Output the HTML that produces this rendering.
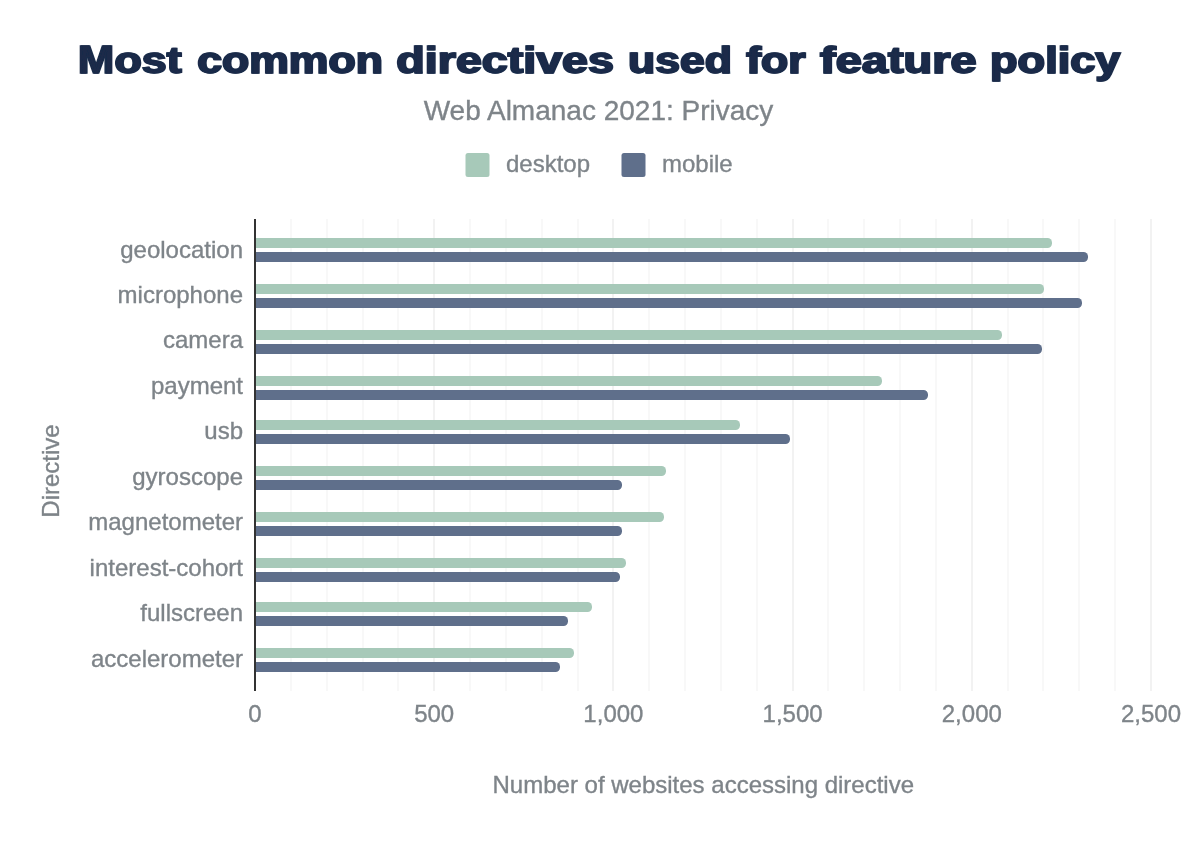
<!DOCTYPE html>
<html lang="en">
<head>
<meta charset="utf-8">
<title>Most common directives used for feature policy</title>
<style>
html,body{margin:0;padding:0;background:#fff;}
body{width:1200px;height:842px;overflow:hidden;}
svg{display:block;}
text{font-family:"Liberation Sans",sans-serif;}
.lbl{font-size:24px;fill:#7e8489;stroke:#7e8489;stroke-width:0.35px;}
.title{font-size:37.8px;font-weight:bold;fill:#1a2b49;stroke:#1a2b49;stroke-width:1.3px;stroke-linejoin:miter;}
.sub{font-size:28px;fill:#7e8489;stroke:#7e8489;stroke-width:0.35px;}
</style>
</head>
<body>
<svg width="1200" height="842" viewBox="0 0 1200 842">
<rect x="0" y="0" width="1200" height="842" fill="#ffffff"/>

<g stroke-width="2">
<line x1="291.00" y1="219" x2="291.00" y2="691" stroke="#f8f8f8"/>
<line x1="327.00" y1="219" x2="327.00" y2="691" stroke="#f8f8f8"/>
<line x1="363.00" y1="219" x2="363.00" y2="691" stroke="#f8f8f8"/>
<line x1="398.00" y1="219" x2="398.00" y2="691" stroke="#f8f8f8"/>
<line x1="434.00" y1="219" x2="434.00" y2="691" stroke="#f2f2f2"/>
<line x1="470.00" y1="219" x2="470.00" y2="691" stroke="#f8f8f8"/>
<line x1="506.00" y1="219" x2="506.00" y2="691" stroke="#f8f8f8"/>
<line x1="542.00" y1="219" x2="542.00" y2="691" stroke="#f8f8f8"/>
<line x1="578.00" y1="219" x2="578.00" y2="691" stroke="#f8f8f8"/>
<line x1="613.00" y1="219" x2="613.00" y2="691" stroke="#f2f2f2"/>
<line x1="649.00" y1="219" x2="649.00" y2="691" stroke="#f8f8f8"/>
<line x1="685.00" y1="219" x2="685.00" y2="691" stroke="#f8f8f8"/>
<line x1="721.00" y1="219" x2="721.00" y2="691" stroke="#f8f8f8"/>
<line x1="757.00" y1="219" x2="757.00" y2="691" stroke="#f8f8f8"/>
<line x1="793.00" y1="219" x2="793.00" y2="691" stroke="#f2f2f2"/>
<line x1="828.00" y1="219" x2="828.00" y2="691" stroke="#f8f8f8"/>
<line x1="864.00" y1="219" x2="864.00" y2="691" stroke="#f8f8f8"/>
<line x1="900.00" y1="219" x2="900.00" y2="691" stroke="#f8f8f8"/>
<line x1="936.00" y1="219" x2="936.00" y2="691" stroke="#f8f8f8"/>
<line x1="972.00" y1="219" x2="972.00" y2="691" stroke="#f2f2f2"/>
<line x1="1008.00" y1="219" x2="1008.00" y2="691" stroke="#f8f8f8"/>
<line x1="1043.00" y1="219" x2="1043.00" y2="691" stroke="#f8f8f8"/>
<line x1="1079.00" y1="219" x2="1079.00" y2="691" stroke="#f8f8f8"/>
<line x1="1115.00" y1="219" x2="1115.00" y2="691" stroke="#f8f8f8"/>
<line x1="1151.00" y1="219" x2="1151.00" y2="691" stroke="#f2f2f2"/>
</g>
<path d="M255 238 H1047.5 a4.5 4.5 0 0 1 4.5 4.5 v1 a4.5 4.5 0 0 1 -4.5 4.5 H255 Z" fill="#a7c9b9"/>
<path d="M255 252 H1083.5 a4.5 4.5 0 0 1 4.5 4.5 v1 a4.5 4.5 0 0 1 -4.5 4.5 H255 Z" fill="#5f6f8b"/>
<path d="M255 284 H1039.5 a4.5 4.5 0 0 1 4.5 4.5 v1 a4.5 4.5 0 0 1 -4.5 4.5 H255 Z" fill="#a7c9b9"/>
<path d="M255 298 H1077.5 a4.5 4.5 0 0 1 4.5 4.5 v1 a4.5 4.5 0 0 1 -4.5 4.5 H255 Z" fill="#5f6f8b"/>
<path d="M255 330 H997.5 a4.5 4.5 0 0 1 4.5 4.5 v1 a4.5 4.5 0 0 1 -4.5 4.5 H255 Z" fill="#a7c9b9"/>
<path d="M255 344 H1037.5 a4.5 4.5 0 0 1 4.5 4.5 v1 a4.5 4.5 0 0 1 -4.5 4.5 H255 Z" fill="#5f6f8b"/>
<path d="M255 376 H877.5 a4.5 4.5 0 0 1 4.5 4.5 v1 a4.5 4.5 0 0 1 -4.5 4.5 H255 Z" fill="#a7c9b9"/>
<path d="M255 390 H923.5 a4.5 4.5 0 0 1 4.5 4.5 v1 a4.5 4.5 0 0 1 -4.5 4.5 H255 Z" fill="#5f6f8b"/>
<path d="M255 420 H735.5 a4.5 4.5 0 0 1 4.5 4.5 v1 a4.5 4.5 0 0 1 -4.5 4.5 H255 Z" fill="#a7c9b9"/>
<path d="M255 434 H785.5 a4.5 4.5 0 0 1 4.5 4.5 v1 a4.5 4.5 0 0 1 -4.5 4.5 H255 Z" fill="#5f6f8b"/>
<path d="M255 466 H661.5 a4.5 4.5 0 0 1 4.5 4.5 v1 a4.5 4.5 0 0 1 -4.5 4.5 H255 Z" fill="#a7c9b9"/>
<path d="M255 480 H617.5 a4.5 4.5 0 0 1 4.5 4.5 v1 a4.5 4.5 0 0 1 -4.5 4.5 H255 Z" fill="#5f6f8b"/>
<path d="M255 512 H659.5 a4.5 4.5 0 0 1 4.5 4.5 v1 a4.5 4.5 0 0 1 -4.5 4.5 H255 Z" fill="#a7c9b9"/>
<path d="M255 526 H617.5 a4.5 4.5 0 0 1 4.5 4.5 v1 a4.5 4.5 0 0 1 -4.5 4.5 H255 Z" fill="#5f6f8b"/>
<path d="M255 558 H621.5 a4.5 4.5 0 0 1 4.5 4.5 v1 a4.5 4.5 0 0 1 -4.5 4.5 H255 Z" fill="#a7c9b9"/>
<path d="M255 572 H615.5 a4.5 4.5 0 0 1 4.5 4.5 v1 a4.5 4.5 0 0 1 -4.5 4.5 H255 Z" fill="#5f6f8b"/>
<path d="M255 602 H587.5 a4.5 4.5 0 0 1 4.5 4.5 v1 a4.5 4.5 0 0 1 -4.5 4.5 H255 Z" fill="#a7c9b9"/>
<path d="M255 616 H563.5 a4.5 4.5 0 0 1 4.5 4.5 v1 a4.5 4.5 0 0 1 -4.5 4.5 H255 Z" fill="#5f6f8b"/>
<path d="M255 648 H569.5 a4.5 4.5 0 0 1 4.5 4.5 v1 a4.5 4.5 0 0 1 -4.5 4.5 H255 Z" fill="#a7c9b9"/>
<path d="M255 662 H555.5 a4.5 4.5 0 0 1 4.5 4.5 v1 a4.5 4.5 0 0 1 -4.5 4.5 H255 Z" fill="#5f6f8b"/>
<rect x="254" y="219" width="2" height="472" fill="#333333"/>
<text class="lbl" x="243" y="257.50" text-anchor="end">geolocation</text>
<text class="lbl" x="243" y="302.97" text-anchor="end">microphone</text>
<text class="lbl" x="243" y="348.44" text-anchor="end">camera</text>
<text class="lbl" x="243" y="393.91" text-anchor="end">payment</text>
<text class="lbl" x="243" y="439.38" text-anchor="end">usb</text>
<text class="lbl" x="243" y="484.85" text-anchor="end">gyroscope</text>
<text class="lbl" x="243" y="530.32" text-anchor="end">magnetometer</text>
<text class="lbl" x="243" y="575.79" text-anchor="end">interest-cohort</text>
<text class="lbl" x="243" y="621.26" text-anchor="end">fullscreen</text>
<text class="lbl" x="243" y="666.73" text-anchor="end">accelerometer</text>
<text class="lbl" x="255.0" y="722" text-anchor="middle">0</text>
<text class="lbl" x="434.2" y="722" text-anchor="middle">500</text>
<text class="lbl" x="613.4" y="722" text-anchor="middle">1,000</text>
<text class="lbl" x="792.6" y="722" text-anchor="middle">1,500</text>
<text class="lbl" x="971.8" y="722" text-anchor="middle">2,000</text>
<text class="lbl" x="1151.0" y="722" text-anchor="middle">2,500</text>
<text class="lbl" x="703.3" y="792.5" text-anchor="middle">Number of websites accessing directive</text>
<text class="lbl" transform="translate(59,471) rotate(-90)" text-anchor="middle">Directive</text>
<defs><filter id="heavy" x="0" y="0" width="1200" height="100" filterUnits="userSpaceOnUse"><feOffset dx="1" dy="0" result="a"/><feMerge><feMergeNode in="SourceGraphic"/><feMergeNode in="a"/></feMerge></filter></defs>
<text class="title" y="73.4" filter="url(#heavy)"><tspan x="77.45" textLength="36.09" lengthAdjust="spacingAndGlyphs" font-size="39.4px">M</tspan><tspan x="114.08" textLength="66.96" lengthAdjust="spacingAndGlyphs">ost</tspan> <tspan x="196.78" textLength="185.62" lengthAdjust="spacingAndGlyphs">common</tspan> <tspan x="395.89" textLength="217.55" lengthAdjust="spacingAndGlyphs">directives</tspan> <tspan x="627.50" textLength="103.79" lengthAdjust="spacingAndGlyphs">used</tspan> <tspan x="745.72" textLength="59.35" lengthAdjust="spacingAndGlyphs">for</tspan> <tspan x="819.61" textLength="156.45" lengthAdjust="spacingAndGlyphs">feature</tspan> <tspan x="989.57" textLength="130.39" lengthAdjust="spacingAndGlyphs">policy</tspan></text>
<text class="sub" x="598.5" y="119.7" text-anchor="middle">Web Almanac 2021: Privacy</text>
<rect x="465.5" y="153" width="24" height="24" rx="2.5" fill="#a7c9b9"/>
<text class="lbl" x="506" y="172">desktop</text>
<rect x="621.5" y="153" width="24" height="24" rx="2.5" fill="#5f6f8b"/>
<text class="lbl" x="662" y="172">mobile</text>
</svg>
</body>
</html>
